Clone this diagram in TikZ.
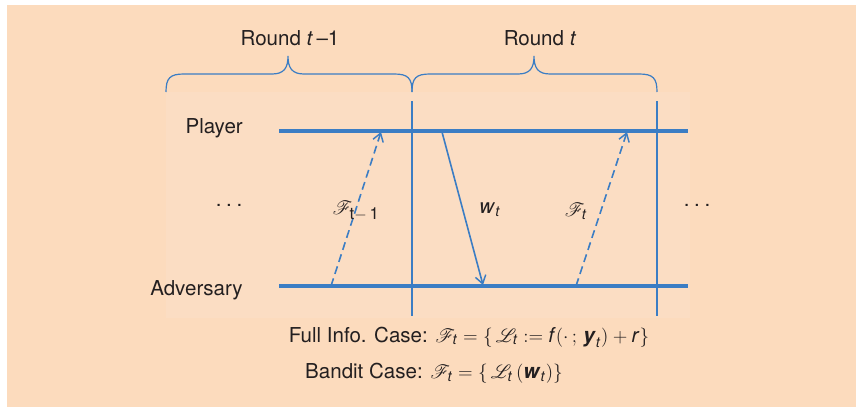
\documentclass[tikz,border=0pt]{standalone}
\usepackage{amsmath}
\usepackage{mathrsfs}
\usepackage{fontspec}
\setmainfont{TeX Gyre Heros}
\usetikzlibrary{arrows.meta}
\definecolor{peach}{HTML}{FCDBBD}
\definecolor{peachin}{HTML}{FBDDC3}
\definecolor{lineblue}{HTML}{3B7DC4}
\definecolor{ink}{HTML}{231F20}
\newcommand\vit[1]{\text{\textit{#1}}}
\newcommand\vbi[1]{\text{\textbf{\textit{#1}}}}
\tikzset{
  lbl/.style={font=\fontsize{15.4}{18}\selectfont, text=ink, inner sep=0pt},
  bracepath/.style={draw=lineblue, line width=0.9pt},
  roundline/.style={draw=lineblue, line width=0.9pt},
  timeline/.style={draw=lineblue, line width=2.6pt},
  msg/.style={draw=lineblue, line width=1.2pt, -{Straight Barb[length=6pt,width=8pt,line width=1.1pt]}},
  fb/.style={msg, dash pattern=on 6pt off 3.5pt},
  dotsnode/.style={lbl}
}
\begin{document}
\begin{tikzpicture}[x=0.75pt,y=-0.75pt]
\useasboundingbox (0,0) rectangle (856,407);
\fill[white] (0,0) rectangle (856,407);
\fill[peach] (7,5) rectangle (856,407);
\fill[peachin] (166,92) rectangle (690,318);
% braces
\path[bracepath] (166,92) .. controls (166,78) and (170,74) .. (184,74) -- (272,74)
  .. controls (284,74) and (288,68) .. (288,56) .. controls (288,68) and (292,74) .. (304,74)
  -- (394,74) .. controls (408,74) and (412,78) .. (412,92);
\path[bracepath] (412,92) .. controls (412,78) and (416,74) .. (430,74) -- (518,74)
  .. controls (530,74) and (534,68) .. (534,56) .. controls (534,68) and (538,74) .. (550,74)
  -- (639,74) .. controls (653,74) and (657,78) .. (657,92);
\node[lbl] (r1) at (290,38) {Round \textit{t}\,–1};
\node[lbl] (r2) at (540,38) {Round \textit{t}};
% round separators
\coordinate (v1t) at (412,101); \coordinate (v1b) at (412,316);
\coordinate (v2t) at (657,101); \coordinate (v2b) at (657,316);
\path[roundline] (v1t) -- (v1b);
\path[roundline] (v2t) -- (v2b);
% timelines
\coordinate (pl) at (279,131); \coordinate (pr) at (688,131);
\coordinate (al) at (279,286); \coordinate (ar) at (688,286);
\path[timeline] (pl) -- (pr);
\path[timeline] (al) -- (ar);
\node[lbl, anchor=base east] (player) at (243,133) {Player};
\node[lbl, anchor=base east] (adv) at (243,295) {Adversary};
\node[dotsnode] (d1) at (229,205) {.\hspace{3.5pt}.\hspace{3.5pt}.};
\node[dotsnode] (d2) at (697,205) {.\hspace{3.5pt}.\hspace{3.5pt}.};
% messages
\coordinate (fa1) at (331,286); \coordinate (fp1) at (381,132);
\coordinate (wp) at (442,132); \coordinate (wa) at (483,285);
\coordinate (fa2) at (576,286); \coordinate (fp2) at (627,132);
\path[fb] (fa1) -- (fp1);
\path[msg] (wp) -- (wa);
\path[fb] (fa2) -- (fp2);
\node[lbl] (lf1) at (356,211) {$\mathscr{F}_{\textstyle\text{\fontsize{12.5}{14}\selectfont t$-$\,1}}$};
\node[lbl] (lw) at (490,210) {$\vit{w}_{\vit{t}}$};
\node[lbl] (lf2) at (576,211) {$\mathscr{F}_{\vit{t}}$};
% cases
\node[lbl] (full) at (469,337) {Full Info. Case: $\mathscr{F}_{\vit{t}} = \{\,\mathscr{L}_{\vit{t}} := \vit{f}(\cdot\,;\,\vbi{y}_{\vit{t}}) + \vit{r}\}$};
\node[lbl] (bandit) at (434,373) {Bandit Case: $\mathscr{F}_{\vit{t}} = \{\,\mathscr{L}_{\vit{t}}\,(\vbi{w}_{\vit{t}})\}$};
\end{tikzpicture}
\end{document}
